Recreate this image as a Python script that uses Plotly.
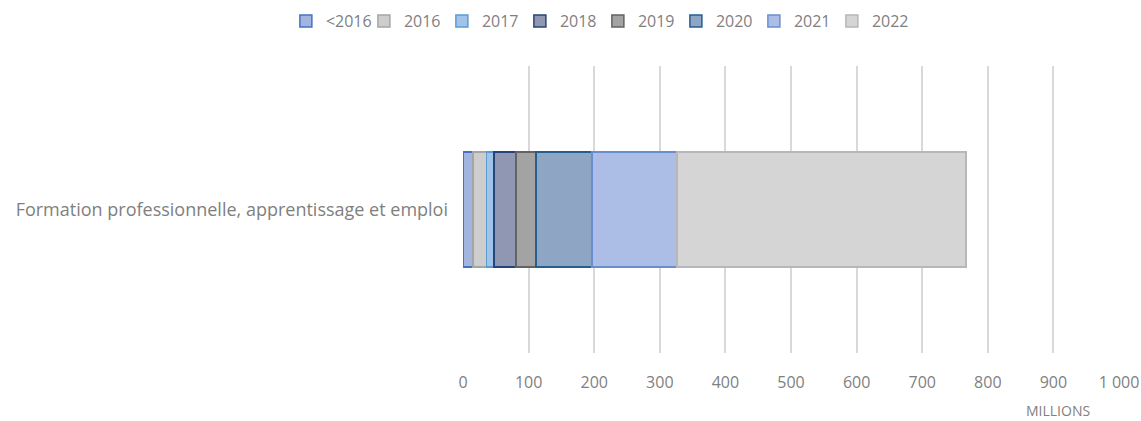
import plotly.graph_objects as go

category = ["Formation professionnelle, apprentissage et emploi"]
series_names = ["<2016", "2016", "2017", "2018", "2019", "2020", "2021", "2022"]
series_values = [15, 21, 11, 34, 30, 86, 129, 441]
fill_colors = ["#a2b5e1", "#cdcdcd", "#9fc4e8", "#9097b2", "#a3a3a3", "#8fa5c4", "#acbee6", "#d5d5d5"]
line_colors = ["#4472c4", "#a5a5a5", "#5b9bd5", "#264478", "#636363", "#255e91", "#698ed0", "#b7b7b7"]
tick_vals = [0, 100, 200, 300, 400, 500, 600, 700, 800, 900, 1000]
tick_text = ["0", "100", "200", "300", "400", "500", "600", "700", "800", "900", "1 000"]

FONT = "Open Sans"
GREY = "#7f7f7f"

fig = go.Figure()
for name, val, fc, lc in zip(series_names, series_values, fill_colors, line_colors):
    fig.add_trace(go.Bar(
        y=category, x=[val], name=name, orientation="h",
        marker=dict(color=fc, line=dict(color=lc, width=1.5)),
        width=0.4,
    ))

fig.update_layout(
    barmode="stack",
    width=1141, height=421,
    margin=dict(l=463, r=21.5, t=66, b=68, autoexpand=False),
    paper_bgcolor="white", plot_bgcolor="white",
    font=dict(family=FONT, color=GREY, size=15),
    showlegend=True,
    legend=dict(orientation="h", xref="container", x=0.524, xanchor="center",
                yref="container", y=0.99, yanchor="top",
                font=dict(size=16, color=GREY), traceorder="normal",
                itemwidth=30, entrywidth=33, entrywidthmode="pixels",
                bgcolor="rgba(0,0,0,0)"),
    xaxis=dict(range=[0, 1000], tickvals=tick_vals, ticktext=tick_text,
               showgrid=True, gridcolor="#d9d9d9", gridwidth=1.5, zeroline=False,
               showline=False, ticks="", ticklabelstandoff=18, automargin=False,
               tickfont=dict(size=16, color=GREY)),
    yaxis=dict(range=[-0.5, 0.5], showgrid=False, zeroline=False, showline=False,
               ticks="", ticklabelstandoff=14, automargin=False,
               tickfont=dict(size=18, color=GREY)),
    annotations=[dict(text="MILLIONS", xref="paper", yref="paper", x=0.907, y=-0.2,
                      xanchor="center", yanchor="middle", showarrow=False,
                      font=dict(size=14, color=GREY))],
)

fig.write_html("out.html", config={"displayModeBar": False},
               post_script="document.body.style.margin='0';document.body.style.overflow='hidden';")
